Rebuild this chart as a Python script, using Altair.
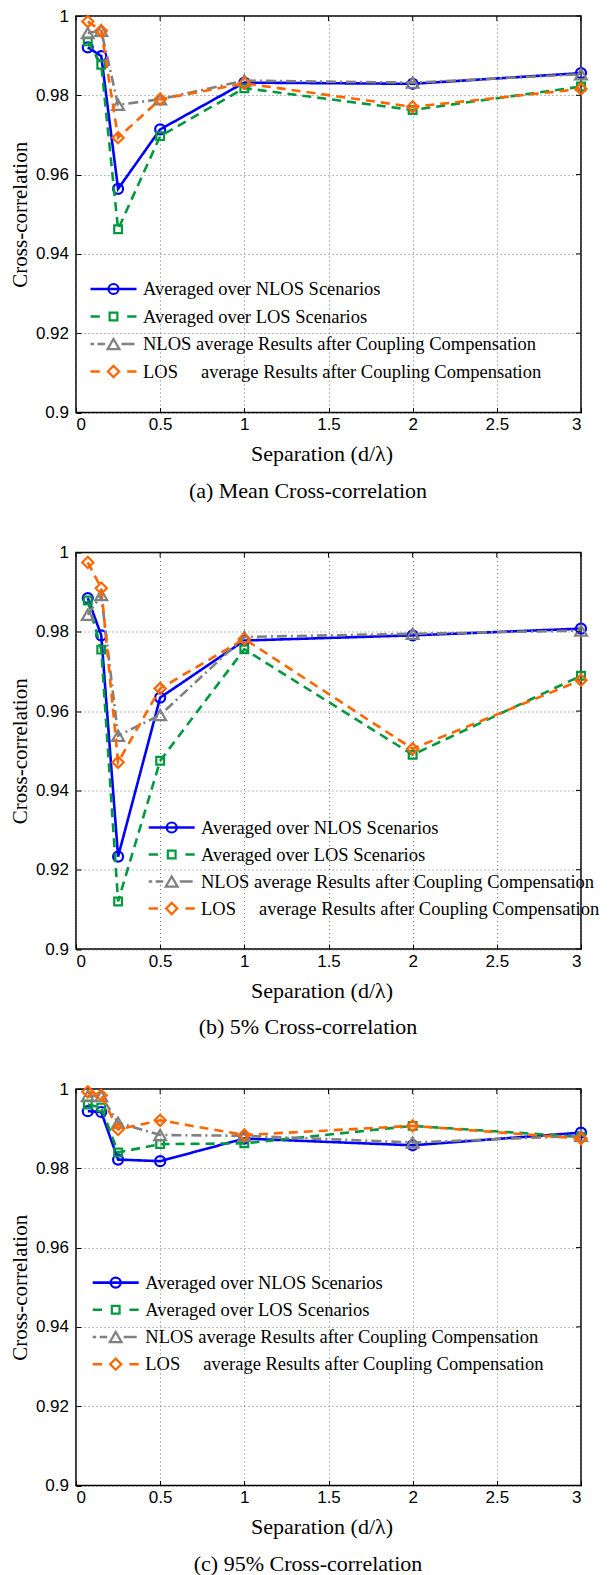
import altair as alt
import pandas as pd

# ---------------- data ----------------
sep = [0.07, 0.15, 0.25, 0.5, 1.0, 2.0, 3.0]

series_labels = [
    "Averaged over NLOS Scenarios",
    "Averaged over LOS Scenarios",
    "NLOS average Results after Coupling Compensation",
    "LOS\u00a0\u00a0\u00a0\u00a0 average Results after Coupling Compensation",
]

# (a) mean cross-correlation
mean_nlos = [0.9921, 0.9899, 0.9564, 0.9714, 0.9832, 0.9829, 0.9856]
mean_los = [0.9936, 0.9877, 0.9462, 0.9697, 0.9818, 0.9763, 0.9822]
mean_nlos_comp = [0.9957, 0.9963, 0.9776, 0.9790, 0.9837, 0.9832, 0.9853]
mean_los_comp = [0.9986, 0.9963, 0.9693, 0.9790, 0.9830, 0.9771, 0.9816]

# (b) 5% cross-correlation
p5_nlos = [0.9885, 0.9791, 0.9233, 0.9634, 0.9778, 0.9791, 0.9808]
p5_los = [0.9879, 0.9755, 0.9120, 0.9475, 0.9756, 0.9490, 0.9689]
p5_nlos_comp = [0.9843, 0.9893, 0.9538, 0.9590, 0.9787, 0.9795, 0.9803]
p5_los_comp = [0.9975, 0.9910, 0.9471, 0.9657, 0.9782, 0.9505, 0.9678]

# (c) 95% cross-correlation
p95_nlos = [0.9944, 0.9942, 0.9822, 0.9818, 0.9875, 0.9858, 0.9890]
p95_los = [0.9961, 0.9953, 0.9840, 0.9861, 0.9863, 0.9907, 0.9879]
p95_nlos_comp = [0.9982, 0.9982, 0.9915, 0.9884, 0.9882, 0.9865, 0.9882]
p95_los_comp = [0.9993, 0.9984, 0.9898, 0.9921, 0.9884, 0.9907, 0.9875]

captions = [
    "(a) Mean Cross-correlation",
    "(b) 5% Cross-correlation",
    "(c) 95% Cross-correlation",
]
x_ticks = [0, 0.5, 1, 1.5, 2, 2.5, 3]
y_ticks = [0.9, 0.92, 0.94, 0.96, 0.98, 1.0]

panels_data = [
    [mean_nlos, mean_los, mean_nlos_comp, mean_los_comp],
    [p5_nlos, p5_los, p5_nlos_comp, p5_los_comp],
    [p95_nlos, p95_los, p95_nlos_comp, p95_los_comp],
]

# ---------------- styles / layout ----------------
W, H = 505, 396.5
COLORS = ["#0000FF", "#00993D", "#808080", "#FF6600"]
DASHES = [[1, 0], [9, 6], [10, 4, 2, 4], [9, 6]]
SHAPES = ["circle", "square", "triangle-up", "diamond"]
SIZES = [100, 60, 140, 125]
LEG_DASHES = [[1, 0], [9.3, 27.4], [3.5, 3.5, 7.5, 16.5, 13], [9.3, 27.4]]
# (symbol centre x, text x, row y's) relative to each plot area
LEG_POS = [
    (37.5, 67, [273, 300.5, 328, 355.5]),
    (95.7, 125, [275, 302, 329, 356]),
    (39.7, 69.3, [193.6, 220.8, 248, 275.2]),
]
CAP_Y = [85, 85, 85]
SERIF = "Liberation Serif"
SANS = "Liberation Sans"
LW = 2.6
MW = 2.2

xscale = alt.Scale(domain=[0, 3], nice=False)
yscale = alt.Scale(domain=[0.9, 1.0], nice=False, zero=False)
grid_kw = dict(grid=True, gridColor="#666666", gridDash=[1, 3], gridWidth=0.9, gridOpacity=1)

x_axis = alt.Axis(
    values=x_ticks, format="~g", title="Separation (d/λ)", domain=False,
    ticks=True, tickSize=5, tickColor="black", tickWidth=1, offset=-5,
    labelFont=SANS, labelFontSize=17, labelColor="black", labelPadding=4,
    titleFont=SERIF, titleFontSize=22, titleFontWeight="normal", titleColor="black",
    titleBaseline="alphabetic", titleX=W / 2 - 7, titleY=53, **grid_kw,
)
y_axis = alt.Axis(
    values=y_ticks, format="~g", title="Cross-correlation", domain=False,
    ticks=True, tickSize=5, tickColor="black", tickWidth=1, offset=-5,
    labelFont=SANS, labelFontSize=17, labelColor="black", labelPadding=7.5,
    titleFont=SERIF, titleFontSize=21, titleFontWeight="normal", titleColor="black",
    titleBaseline="alphabetic", titleX=-55, titleY=H / 2, **grid_kw,
)


def panel(k):
    layers = []
    for i, vals in enumerate(panels_data[k]):
        df = pd.DataFrame({"sep": sep, "v": vals})
        x_enc = alt.X("sep:Q", scale=xscale, axis=x_axis)
        y_enc = alt.Y("v:Q", scale=yscale, axis=y_axis)
        layers.append(
            alt.Chart(df).mark_line(color=COLORS[i], strokeWidth=LW, strokeDash=DASHES[i])
            .encode(x=x_enc, y=y_enc)
        )
        layers.append(
            alt.Chart(df).mark_point(shape=SHAPES[i], size=SIZES[i], filled=False,
                                     color=COLORS[i], strokeWidth=MW, opacity=1)
            .encode(x=x_enc, y=y_enc)
        )
    # inward ticks on the top and right edges of the box
    xt = pd.DataFrame({"sep": x_ticks})
    yt = pd.DataFrame({"v": y_ticks})
    layers.append(
        alt.Chart(xt).mark_rule(color="black", strokeWidth=1)
        .encode(x=alt.X("sep:Q", scale=xscale, axis=x_axis), y=alt.value(0), y2=alt.value(5))
    )
    layers.append(
        alt.Chart(yt).mark_rule(color="black", strokeWidth=1)
        .encode(y=alt.Y("v:Q", scale=yscale, axis=y_axis), x=alt.value(W - 5), x2=alt.value(W))
    )
    # legend
    cx, tx, rows = LEG_POS[k]
    for i, lab in enumerate(series_labels):
        one = pd.DataFrame({"label": [lab]})
        ry = rows[i]
        layers.append(
            alt.Chart(one).mark_rule(color=COLORS[i], strokeWidth=LW, strokeDash=LEG_DASHES[i])
            .encode(x=alt.value(cx - 23), x2=alt.value(cx + 23), y=alt.value(ry))
        )
        layers.append(
            alt.Chart(one).mark_point(shape=SHAPES[i], size=SIZES[i], filled=False,
                                      color=COLORS[i], strokeWidth=MW, opacity=1)
            .encode(x=alt.value(cx), y=alt.value(ry))
        )
        layers.append(
            alt.Chart(one).mark_text(align="left", baseline="middle", font=SERIF,
                                     fontSize=18.5, color="black")
            .encode(x=alt.value(tx), y=alt.value(ry), text="label:N")
        )
    # caption
    cap = pd.DataFrame({"cap": [captions[k]]})
    layers.append(
        alt.Chart(cap).mark_text(align="center", baseline="alphabetic", font=SERIF,
                                 fontSize=22, color="black")
        .encode(x=alt.value(232), y=alt.value(H + CAP_Y[k]), text="cap:N")
    )
    return alt.layer(*layers).properties(width=W, height=H)


chart = (
    alt.vconcat(panel(0), panel(1), panel(2), spacing=139.5, bounds="flush")
    .properties(padding={"left": 0, "top": -2, "right": 0, "bottom": 0}, background="white")
    .configure_view(stroke="black", strokeWidth=1.5)
)

chart.save("out.html", embed_options={"renderer": "svg", "actions": False})
